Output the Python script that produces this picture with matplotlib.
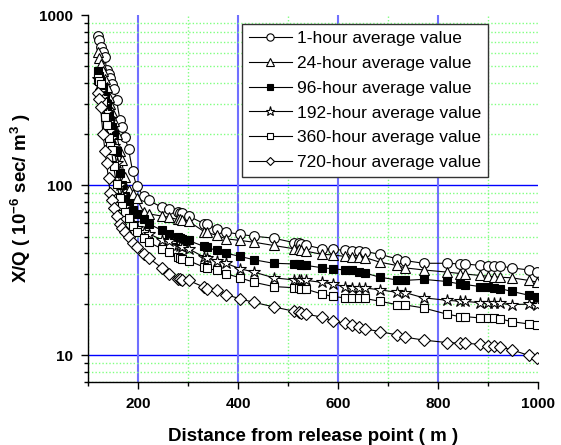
import matplotlib
matplotlib.use('Agg')
import matplotlib.pyplot as plt
from matplotlib.ticker import LogLocator, NullFormatter, FixedLocator

plt.rcParams['font.family'] = ['Liberation Sans', 'DejaVu Sans']
plt.rcParams['mathtext.default'] = 'regular'

# distance from release point (m)
dist = [120, 122, 125, 130, 134, 137, 141, 144, 147, 151, 157, 164, 167, 173, 181, 189, 197,
        211, 221, 247, 261, 279, 283, 287, 301, 332, 337, 357, 376, 404, 432, 471,
        511, 521, 526, 536, 567, 589, 613, 627, 641, 654, 684, 717, 734,
        771, 817, 844, 854, 884, 900, 911, 924, 947, 981, 997]

# X/Q values for each averaging period
h1 = [755, 715, 653, 610, 570, 476, 450, 425, 397, 371, 317, 242, 221, 193, 164, 122, 99,
      86.5, 81.6, 74.5, 73, 69.5, 69, 68.5, 66, 59.5, 59, 55.6, 53.1, 51.5, 50.2, 48.9,
      46.1, 45.5, 44.9, 44.5, 42.4, 42, 41.5, 41, 41, 40.8, 39.3, 37, 36.1,
      34.8, 34.8, 34.5, 34.5, 33.8, 33.6, 33.6, 33.5, 32.7, 31.8, 31.0]
h24 = [610, 560, 520, 470, 420, 380, 330, 300, 270, 240, 200, 160, 140, 112, 94, 89, 84,
       70, 68, 66, 65, 63, 63, 62.5, 61.5, 53.5, 53, 50.8, 48.5, 47.4, 46.3, 44.3,
       42.4, 42, 41.5, 41, 39.3, 39, 38.2, 37.8, 37.8, 37.6, 35.3, 33.8, 32.7,
       31.8, 30.9, 30.3, 30.1, 29.5, 29.2, 29, 28.8, 28.6, 27.6, 27.0]
h96 = [470, 440, 410, 380, 330, 300, 260, 235, 220, 200, 160, 118, 100, 86, 78, 72, 68,
       63, 59.5, 54.5, 52, 49.4, 49, 48.5, 47.4, 43.7, 43.3, 41.4, 39.9, 38.2, 36.5, 34.8,
       34.5, 34.3, 34.2, 33.8, 32.8, 32.3, 31.8, 31.6, 31, 30.5, 28.8, 27.8, 27.6,
       28, 27.2, 26.3, 26.1, 25.4, 25.1, 24.9, 24.7, 23.8, 22.6, 22.1]
h192 = [420, 390, 360, 330, 300, 270, 235, 210, 190, 170, 135, 100, 88, 75, 66, 60, 56,
        53.5, 52, 47.9, 46.8, 44.3, 44, 43.5, 42.4, 37.8, 37.6, 36.1, 34.8, 32.3, 30.9, 28.6,
        27.8, 27.8, 27.7, 27.6, 26.9, 26.3, 25.4, 25.0, 25.0, 24.9, 24.3, 23.5, 23.4,
        21.8, 21.1, 20.8, 20.8, 20.4, 20.3, 20.3, 20.2, 19.9, 20.0, 19.9]
h360 = [425, 410, 397, 310, 253, 225, 190, 170, 161, 130, 102, 84, 76, 70, 64, 58, 53,
        49, 46.3, 42.5, 40.4, 37.8, 37.5, 37, 36.1, 33, 32.6, 31.6, 30.2, 28.6, 26.9, 25.4,
        25, 24.8, 24.6, 24.5, 23, 22.2, 21.8, 21.8, 21.7, 21.6, 20.8, 19.9, 19.8,
        19, 17.5, 16.9, 16.9, 16.6, 16.5, 16.5, 16.4, 15.8, 15.3, 15.1]
h720 = [350, 320, 290, 200, 160, 135, 110, 90, 82, 74, 66, 59, 56, 53, 49.5, 46, 43.3,
        39.5, 37.5, 32.8, 30.2, 28.2, 28, 27.8, 27.6, 25.2, 24.6, 24.1, 22.8, 21.5, 20.5, 19.3,
        18.2, 17.9, 17.7, 17.5, 16.8, 16, 15.4, 15.0, 14.6, 14.3, 13.8, 13.2, 12.8,
        12.3, 11.9, 11.8, 11.8, 11.6, 11.4, 11.3, 11.2, 10.8, 10.0, 9.7]

labels = ['1-hour average value', '24-hour average value', '96-hour average value',
          '192-hour average value', '360-hour average value', '720-hour average value']
series = [h1, h24, h96, h192, h360, h720]
# marker, face colour, size
styles = [('o', 'white', 7), ('^', 'white', 7.5), ('s', 'black', 6),
          ('*', 'white', 9), ('s', 'white', 6), ('D', 'white', 6)]

fig = plt.figure(figsize=(5.61, 4.45), dpi=100)
ax = fig.add_axes([88 / 561, 1 - 381.7 / 445, 450 / 561, 366.4 / 445])

for y, lab, (m, fc, ms) in zip(series, labels, styles):
    ax.plot(dist, y, '-', color='black', lw=0.8, marker=m, ms=ms,
            mfc=fc, mec='black', mew=0.8, label=lab, zorder=3)

ax.set_yscale('log')
ax.set_xlim(100, 1000)
ax.set_ylim(7, 1000)

ax.set_xticks([200, 400, 600, 800, 1000])
ax.set_xticklabels(['200', '400', '600', '800', '1000'])
ax.xaxis.set_minor_locator(FixedLocator([100, 300, 500, 700, 900]))
ax.set_yticks([10, 100, 1000])
ax.set_yticklabels(['10', '100', '1000'])
ax.yaxis.set_minor_locator(LogLocator(base=10, subs=range(2, 10)))
ax.yaxis.set_minor_formatter(NullFormatter())

# grid: green dotted minor, blue major
ax.grid(which='minor', color='#80ff80', ls=(0, (1, 1.5)), lw=1, zorder=0)
for v in [10, 100]:
    ax.axhline(v, color='#0000ff', lw=1, zorder=1)
for v in [200, 400, 600, 800]:
    ax.axvline(v, color='#7070ff', lw=1.5, zorder=1)

for s in ['top', 'right']:
    ax.spines[s].set_visible(False)
for s in ['left', 'bottom']:
    ax.spines[s].set_linewidth(1)

ax.tick_params(which='major', direction='out', length=5, width=1, labelsize=11, pad=6)
ax.tick_params(which='minor', direction='out', length=3, width=1)
for t in ax.get_xticklabels() + ax.get_yticklabels():
    t.set_fontweight('bold')

ax.set_xlabel('Distance from release point ( m )', fontsize=13.5, fontweight='bold', labelpad=12)
ax.set_ylabel('X/Q ( 10$^{-6}$ sec/ m$^{3}$ )', fontsize=13.5, fontweight='bold', labelpad=4)

leg = ax.legend(loc='upper right', bbox_to_anchor=(0.8896, 0.9754), borderaxespad=0,
                fontsize=12.5, handlelength=2.5, handletextpad=0.3, labelspacing=0.55,
                markerscale=0.75, fancybox=False, framealpha=1, borderpad=0.4)
leg.get_frame().set_edgecolor('#333333')
leg.get_frame().set_linewidth(1)

fig.savefig('out.png', dpi=100)
